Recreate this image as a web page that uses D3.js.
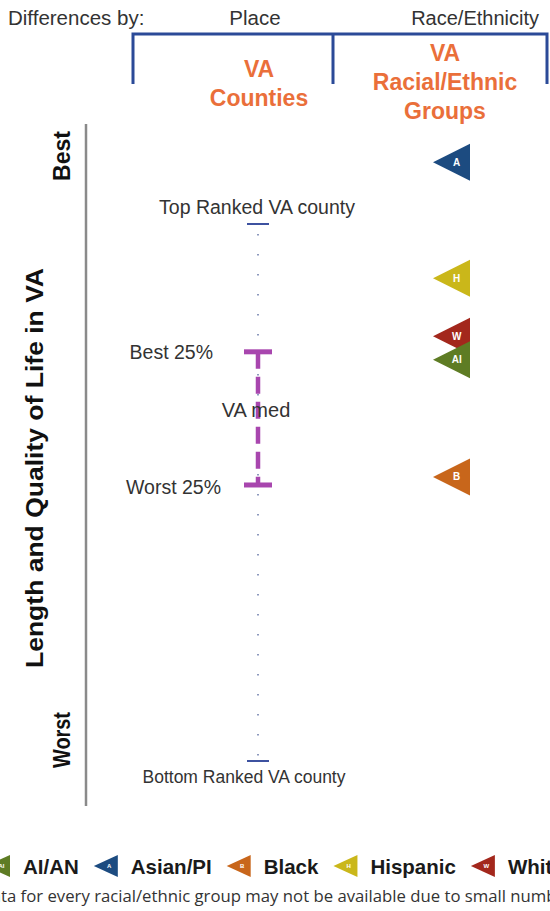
<!DOCTYPE html>
<html>
<head>
<meta charset="utf-8">
<script src="https://cdn.jsdelivr.net/npm/d3@7"></script>
<style>
  html, body { margin: 0; padding: 0; background: #fff; overflow: hidden; }
  svg { display: block; font-family: "Liberation Sans", Arial, sans-serif; }
</style>
</head>
<body>
<svg id="chart" width="550" height="911"></svg>
<script>
// rank position: 0 = top ranked county, 100 = bottom ranked county
const countyLabels = ['Top Ranked VA county', 'Best 25%', 'VA med', 'Worst 25%', 'Bottom Ranked VA county'];
const countyValues = [0, 23.8, 34.6, 48.6, 100];

const groupNames = ['AI/AN', 'Asian/PI', 'Black', 'Hispanic', 'White'];
const groupCodes = ['AI', 'A', 'B', 'H', 'W'];
const groupColors = ['#5e7c24', '#1c4b80', '#c8661b', '#cab71a', '#a3271c'];
const groupValues = [25.3, -11.5, 47.1, 10.1, 20.9];
const drawOrder = ['A', 'H', 'W', 'AI', 'B'];

const headerLabels = ['Differences by:', 'Place', 'Race/Ethnicity'];
const placeTitle = ['VA', 'Counties'];
const raceTitle = ['VA', 'Racial/Ethnic', 'Groups'];
const footnote = 'Data for every racial/ethnic group may not be available due to small numbers.';

const svg = d3.select('#chart');
const y = d3.scaleLinear().domain([0, 100]).range([224, 761]);
const midX = 258;
const triX = 433, triW = 37, triH = 37;

// header
svg.append('text').attr('x', 8).attr('y', 25)
  .style('font-size', '20.5px').attr('fill', '#333').text(headerLabels[0]);
svg.append('text').attr('x', 255).attr('y', 25).attr('text-anchor', 'middle')
  .style('font-size', '20.5px').attr('fill', '#333').text(headerLabels[1]);
svg.append('text').attr('x', 539).attr('y', 25).attr('text-anchor', 'end')
  .style('font-size', '20px').attr('fill', '#333').text(headerLabels[2]);

const navy = '#2b4a98';
svg.append('path')
  .attr('d', 'M133,84 V34 H547 V84 M333,34 V84')
  .attr('fill', 'none').attr('stroke', navy).attr('stroke-width', 3);

const orange = '#ea6f3a';
placeTitle.forEach((t, i) => {
  svg.append('text').attr('x', 259).attr('y', 77 + i * 29).attr('text-anchor', 'middle')
    .style('font-size', '23px').style('font-weight', 'bold').attr('fill', orange).text(t);
});
raceTitle.forEach((t, i) => {
  svg.append('text').attr('x', 445).attr('y', 61 + i * 29).attr('text-anchor', 'middle')
    .style('font-size', '23px').style('font-weight', 'bold').attr('fill', orange).text(t);
});

// left axis
svg.append('line').attr('x1', 86).attr('x2', 86).attr('y1', 124).attr('y2', 806)
  .attr('stroke', '#8a8a8a').attr('stroke-width', 2.5);
const rot = (x, yy, txt, len) => svg.append('text')
  .attr('transform', `translate(${x},${yy}) rotate(-90)`)
  .attr('text-anchor', 'middle').attr('dominant-baseline', 'central')
  .attr('textLength', len).attr('lengthAdjust', 'spacingAndGlyphs')
  .style('font-size', '23px').style('font-weight', 'bold').attr('fill', '#111').text(txt);
rot(62, 156, 'Best', 50);
rot(62, 740, 'Worst', 56);
rot(35, 468, 'Length and Quality of Life in VA', 400);

// county range (dotted)
svg.append('line').attr('x1', midX).attr('x2', midX)
  .attr('y1', y(countyValues[0]) + 10).attr('y2', y(countyValues[4]) - 4)
  .attr('stroke', '#6878a8').attr('stroke-width', 1.5)
  .attr('stroke-dasharray', '1.5,18.5');
[0, 4].forEach(i => {
  svg.append('line').attr('x1', midX - 11).attr('x2', midX + 11)
    .attr('y1', y(countyValues[i])).attr('y2', y(countyValues[i]))
    .attr('stroke', '#3d52a0').attr('stroke-width', 2);
});
svg.append('text').attr('x', 257).attr('y', y(countyValues[0]) - 10).attr('text-anchor', 'middle')
  .style('font-size', '19.5px').attr('fill', '#333').text(countyLabels[0]);
svg.append('text').attr('x', 244).attr('y', y(countyValues[4]) + 22).attr('text-anchor', 'middle')
  .style('font-size', '17.5px').attr('fill', '#333').text(countyLabels[4]);

// interquartile box
const purple = '#a846ae';
svg.append('line').attr('x1', midX).attr('x2', midX)
  .attr('y1', y(countyValues[1])).attr('y2', y(countyValues[3]))
  .attr('stroke', purple).attr('stroke-width', 4.5)
  .attr('stroke-dasharray', '17,8');
[1, 3].forEach(i => {
  svg.append('line').attr('x1', midX - 14).attr('x2', midX + 14)
    .attr('y1', y(countyValues[i])).attr('y2', y(countyValues[i]))
    .attr('stroke', purple).attr('stroke-width', 5);
});
svg.append('text').attr('x', 213).attr('y', y(countyValues[1]) + 7).attr('text-anchor', 'end')
  .style('font-size', '19.5px').attr('fill', '#333').text(countyLabels[1]);
svg.append('text').attr('x', 221).attr('y', y(countyValues[3]) + 9).attr('text-anchor', 'end')
  .style('font-size', '19.5px').attr('fill', '#333').text(countyLabels[3]);
svg.append('text').attr('x', 256).attr('y', y(countyValues[2]) + 7).attr('text-anchor', 'middle')
  .style('font-size', '20px').attr('fill', '#333').text(countyLabels[2]);

// group markers
const tri = (g, x0, w, h) => g.append('path')
  .attr('d', `M${x0},0 L${x0 + w},${-h / 2} L${x0 + w},${h / 2} Z`);

drawOrder.forEach(code => {
  const i = groupCodes.indexOf(code);
  const g = svg.append('g').attr('transform', `translate(0,${y(groupValues[i])})`);
  tri(g, triX, triW, triH).attr('fill', groupColors[i]);
  g.append('text').attr('x', triX + triW * 0.64).attr('y', 0)
    .attr('text-anchor', 'middle').attr('dominant-baseline', 'central')
    .style('font-size', '10px').style('font-weight', 'bold').attr('fill', '#fff')
    .text(code);
});

// legend
let lx = -14;
const ly = 866;
groupNames.forEach((name, i) => {
  const g = svg.append('g').attr('transform', `translate(0,${ly})`);
  tri(g, lx, 24, 22).attr('fill', groupColors[i]);
  g.append('text').attr('x', lx + 24 * 0.64).attr('y', 0)
    .attr('text-anchor', 'middle').attr('dominant-baseline', 'central')
    .style('font-size', '6px').style('font-weight', 'bold').attr('fill', '#fff')
    .text(groupCodes[i]);
  const t = g.append('text').attr('x', lx + 37).attr('y', 0)
    .attr('dominant-baseline', 'central')
    .style('font-size', '20.5px').style('font-weight', 'bold').attr('fill', '#1a1a1a')
    .text(name);
  lx += 37 + t.node().getComputedTextLength() + 15;
});

// footnote: sized so the visible part runs edge to edge like the reference
const fn = svg.append('text').attr('y', 902)
  .style('font-family', '"Open Sans", sans-serif').style('font-size', '14px')
  .attr('fill', '#333').text(footnote);
const cut = footnote.indexOf('numb') + 4;
const shown = fn.node().getSubStringLength(2, cut - 2);
const fsize = 14 * 556 / shown;
fn.style('font-size', fsize + 'px');
fn.attr('x', 1 - fn.node().getSubStringLength(0, 2));
</script>
</body>
</html>
